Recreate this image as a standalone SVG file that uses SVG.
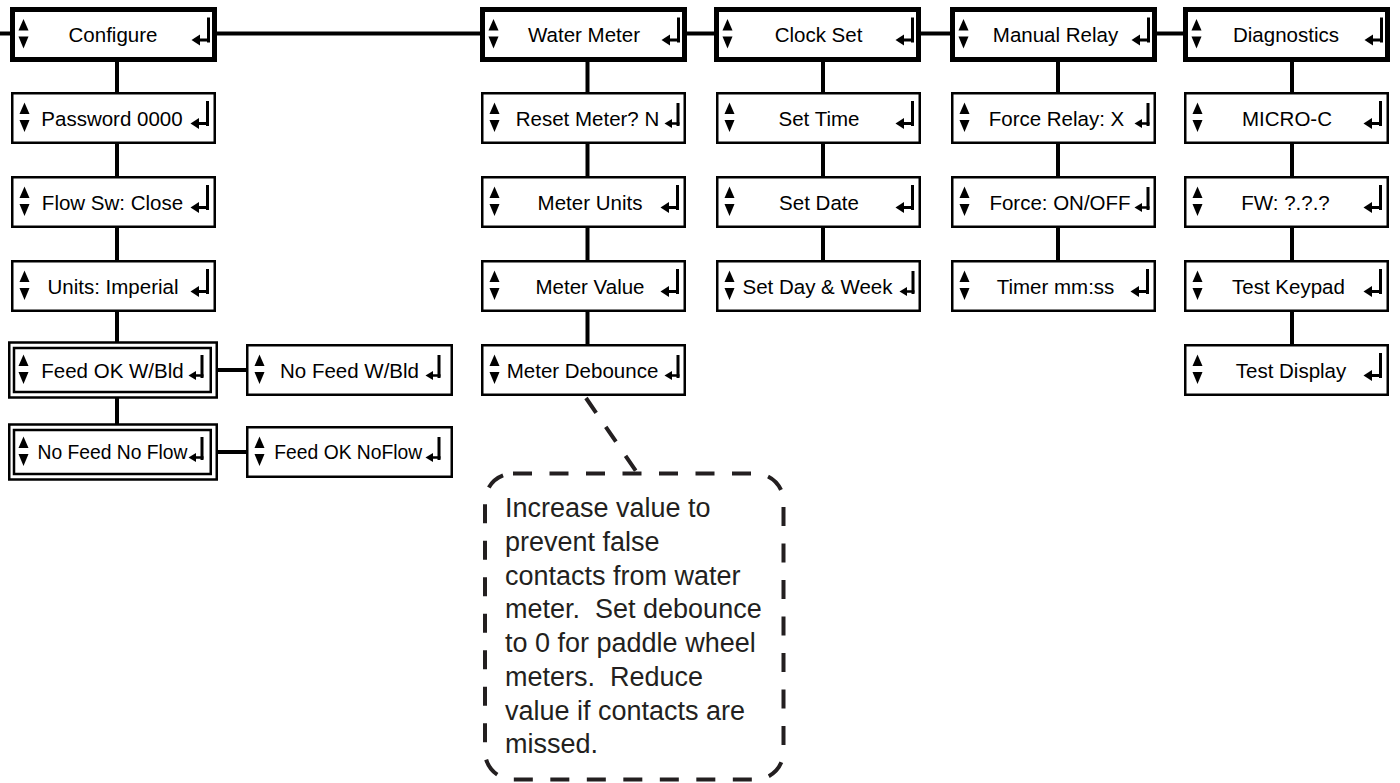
<svg xmlns="http://www.w3.org/2000/svg" xmlns:xlink="http://www.w3.org/1999/xlink" width="1400" height="783" viewBox="0 0 1400 783">
<style>
.top{fill:#fff;stroke:#000;stroke-width:5}
.box{fill:#fff;stroke:#000;stroke-width:2.5}
.conn{stroke:#000;stroke-width:4;fill:none}
.lbl{font-family:"Liberation Sans",Arial,Helvetica,sans-serif;font-size:20.5px;text-anchor:middle;fill:#000}
.cond{font-size:19.3px}
.note{font-family:"Liberation Sans",Arial,Helvetica,sans-serif;font-size:27px;fill:#231f20}
.dash{fill:none;stroke:#231f20;stroke-width:4}
</style>
<defs>
<g id="ud">
<polygon points="13.5,-15.5 8.5,-4 18.5,-4" fill="#000"/>
<polygon points="8.5,2 18.5,2 13.5,14" fill="#000"/>
</g>
<g id="ret">
<rect x="-10" y="-17" width="3" height="25" fill="#000"/>
<rect x="-17" y="4" width="10" height="3" fill="#000"/>
<polygon points="-25.5,5.5 -17,0 -17,11" fill="#000"/>
</g>
<g id="ret2">
<rect x="-9.5" y="-15" width="3" height="23" fill="#000"/>
<rect x="-14" y="4.25" width="7.5" height="2.5" fill="#000"/>
<polygon points="-21.5,5.5 -14,1 -14,10" fill="#000"/>
</g>
</defs>
<rect width="1400" height="783" fill="#fff"/>
<g id="connectors">
<path class="conn" d="M0 33.5H1190"/>
<path class="conn" d="M117 60V425"/>
<path class="conn" d="M587.5 60V345"/>
<path class="conn" d="M823 60V261"/>
<path class="conn" d="M1058 60V261"/>
<path class="conn" d="M1292 60V345"/>
<path class="conn" d="M216 370H247"/>
<path class="conn" d="M216 452H247"/>
<path class="dash" d="M586 398L638 474" stroke-dasharray="18 17"/>
</g>
<g id="n-configure"><rect class="top" x="12.5" y="9.5" width="202" height="50"/><use xlink:href="#ud" x="10" y="34.5"/><use xlink:href="#ret" x="217" y="34.5"/><text class="lbl" x="113" y="42">Configure</text></g>
<g id="n-watermeter"><rect class="top" x="482.5" y="9.5" width="202" height="50"/><use xlink:href="#ud" x="480" y="34.5"/><use xlink:href="#ret" x="687" y="34.5"/><text class="lbl" x="584" y="42">Water Meter</text></g>
<g id="n-clockset"><rect class="top" x="716.5" y="9.5" width="202" height="50"/><use xlink:href="#ud" x="714" y="34.5"/><use xlink:href="#ret" x="921" y="34.5"/><text class="lbl" x="818.5" y="42">Clock Set</text></g>
<g id="n-manualrelay"><rect class="top" x="952.5" y="9.5" width="202" height="50"/><use xlink:href="#ud" x="950" y="34.5"/><use xlink:href="#ret" x="1157" y="34.5"/><text class="lbl" x="1055.5" y="42">Manual Relay</text></g>
<g id="n-diagnostics"><rect class="top" x="1185.5" y="9.5" width="202" height="50"/><use xlink:href="#ud" x="1183" y="34.5"/><use xlink:href="#ret" x="1390" y="34.5"/><text class="lbl" x="1286" y="42">Diagnostics</text></g>

<g id="n-password"><rect class="box" x="12.25" y="93.25" width="202.5" height="49.5"/><use xlink:href="#ud" x="11" y="118"/><use xlink:href="#ret" x="216" y="118"/><text class="lbl" x="112" y="125.5">Password 0000</text></g>
<g id="n-flowsw"><rect class="box" x="12.25" y="177.25" width="202.5" height="49.5"/><use xlink:href="#ud" x="11" y="202"/><use xlink:href="#ret" x="216" y="202"/><text class="lbl" x="112.5" y="209.5">Flow Sw: Close</text></g>
<g id="n-units"><rect class="box" x="12.25" y="261.25" width="202.5" height="49.5"/><use xlink:href="#ud" x="11" y="286"/><use xlink:href="#ret" x="216" y="286"/><text class="lbl" x="113" y="293.5">Units: Imperial</text></g>
<g id="n-feedokwbld"><rect class="box" x="9.25" y="342.5" width="207.5" height="55"/><rect class="box" x="14" y="348" width="196.75" height="44"/><use xlink:href="#ud" x="10" y="370"/><use xlink:href="#ret2" x="210" y="370"/><text class="lbl" x="112.5" y="377.5">Feed OK W/Bld</text></g>
<g id="n-nofeednoflow"><rect class="box" x="9.25" y="424.5" width="207.5" height="55"/><rect class="box" x="14" y="430" width="196.75" height="44"/><use xlink:href="#ud" x="10" y="452"/><use xlink:href="#ret2" x="210" y="452"/><text class="lbl cond" x="112.5" y="459">No Feed No Flow</text></g>
<g id="n-nofeedwbld"><rect class="box" x="247.25" y="345.25" width="204.5" height="49.5"/><use xlink:href="#ud" x="246" y="370"/><use xlink:href="#ret2" x="447" y="370"/><text class="lbl" x="349.5" y="377.5">No Feed W/Bld</text></g>
<g id="n-feedoknoflow"><rect class="box" x="247.25" y="427.25" width="204.5" height="49.5"/><use xlink:href="#ud" x="246" y="452"/><use xlink:href="#ret2" x="447" y="452"/><text class="lbl cond" x="348.3" y="459">Feed OK NoFlow</text></g>

<g id="n-resetmeter"><rect class="box" x="482.25" y="93.25" width="202.5" height="49.5"/><use xlink:href="#ud" x="481" y="118"/><use xlink:href="#ret2" x="686" y="118"/><text class="lbl" x="587.5" y="125.5">Reset Meter? N</text></g>
<g id="n-meterunits"><rect class="box" x="482.25" y="177.25" width="202.5" height="49.5"/><use xlink:href="#ud" x="481" y="202"/><use xlink:href="#ret" x="686" y="202"/><text class="lbl" x="590" y="209.5">Meter Units</text></g>
<g id="n-metervalue"><rect class="box" x="482.25" y="261.25" width="202.5" height="49.5"/><use xlink:href="#ud" x="481" y="286"/><use xlink:href="#ret" x="686" y="286"/><text class="lbl" x="590" y="293.5">Meter Value</text></g>
<g id="n-meterdebounce"><rect class="box" x="482.25" y="345.25" width="202.5" height="49.5"/><use xlink:href="#ud" x="481" y="370"/><use xlink:href="#ret2" x="686" y="370"/><text class="lbl" x="582.5" y="377.5">Meter Debounce</text></g>

<g id="n-settime"><rect class="box" x="717.25" y="93.25" width="202.5" height="49.5"/><use xlink:href="#ud" x="716" y="118"/><use xlink:href="#ret" x="921" y="118"/><text class="lbl" x="819" y="125.5">Set Time</text></g>
<g id="n-setdate"><rect class="box" x="717.25" y="177.25" width="202.5" height="49.5"/><use xlink:href="#ud" x="716" y="202"/><use xlink:href="#ret" x="921" y="202"/><text class="lbl" x="819" y="209.5">Set Date</text></g>
<g id="n-setdayweek"><rect class="box" x="717.25" y="261.25" width="202.5" height="49.5"/><use xlink:href="#ud" x="716" y="286"/><use xlink:href="#ret2" x="921" y="286"/><text class="lbl" x="817.5" y="293.5">Set Day &amp; Week</text></g>

<g id="n-forcerelay"><rect class="box" x="952.25" y="93.25" width="202.5" height="49.5"/><use xlink:href="#ud" x="951" y="118"/><use xlink:href="#ret2" x="1156" y="118"/><text class="lbl" x="1056.5" y="125.5">Force Relay: X</text></g>
<g id="n-force"><rect class="box" x="952.25" y="177.25" width="202.5" height="49.5"/><use xlink:href="#ud" x="951" y="202"/><use xlink:href="#ret2" x="1156" y="202"/><text class="lbl" x="1060" y="209.5">Force: ON/OFF</text></g>
<g id="n-timer"><rect class="box" x="952.25" y="261.25" width="202.5" height="49.5"/><use xlink:href="#ud" x="951" y="286"/><use xlink:href="#ret" x="1156" y="286"/><text class="lbl" x="1055.5" y="293.5">Timer mm:ss</text></g>

<g id="n-microc"><rect class="box" x="1185.25" y="93.25" width="202.5" height="49.5"/><use xlink:href="#ud" x="1184" y="118"/><use xlink:href="#ret" x="1389" y="118"/><text class="lbl" x="1287" y="125.5">MICRO-C</text></g>
<g id="n-fw"><rect class="box" x="1185.25" y="177.25" width="202.5" height="49.5"/><use xlink:href="#ud" x="1184" y="202"/><use xlink:href="#ret" x="1389" y="202"/><text class="lbl" x="1285.5" y="209.5">FW: ?.?.?</text></g>
<g id="n-testkeypad"><rect class="box" x="1185.25" y="261.25" width="202.5" height="49.5"/><use xlink:href="#ud" x="1184" y="286"/><use xlink:href="#ret" x="1389" y="286"/><text class="lbl" x="1288.5" y="293.5">Test Keypad</text></g>
<g id="n-testdisplay"><rect class="box" x="1185.25" y="345.25" width="202.5" height="49.5"/><use xlink:href="#ud" x="1184" y="370"/><use xlink:href="#ret" x="1389" y="370"/><text class="lbl" x="1291" y="377.5">Test Display</text></g>

<g id="n-note">
<rect class="dash" x="485" y="473.5" width="298.5" height="306" rx="28" ry="28" stroke-dasharray="19 17.5"/>
<text class="note" x="505" y="517.3">Increase value to</text>
<text class="note" x="505" y="551">prevent false</text>
<text class="note" x="505" y="584.7">contacts from water</text>
<text class="note" x="505" y="618.4">meter.&#160; Set debounce</text>
<text class="note" x="505" y="652.1">to 0 for paddle wheel</text>
<text class="note" x="505" y="685.8">meters.&#160; Reduce</text>
<text class="note" x="505" y="719.5">value if contacts are</text>
<text class="note" x="505" y="753.2">missed.</text>
</g>
</svg>
